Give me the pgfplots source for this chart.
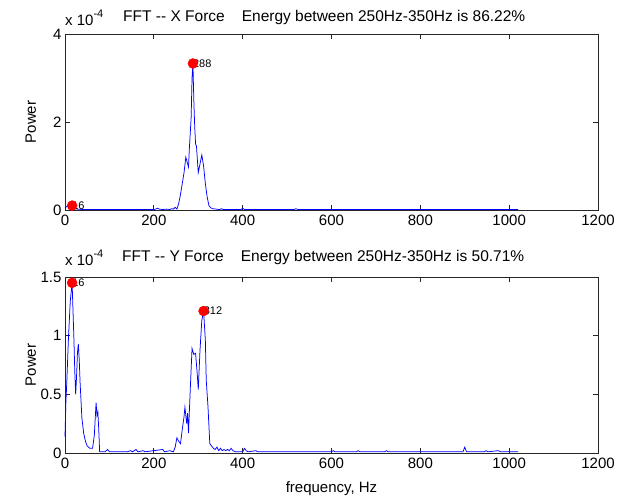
\documentclass[border=0pt]{standalone}
\usepackage{fontspec}
\setmainfont{Liberation Sans}
\usepackage{pgfplots}
\pgfplotsset{compat=1.18}

\newcommand{\fs}{\fontsize{15bp}{18bp}\selectfont}
\newcommand{\fsm}{\fontsize{11bp}{13bp}\selectfont}

\pgfplotsset{
  fftaxis/.style={
    scale only axis, width=533bp, height=176bp,
    xmin=0, xmax=1200, xtick={0,200,...,1200},
    ymin=0,
    tick pos=both, tick align=inside,
    major tick length=5bp,
    axis line style={line width=0.8bp, black!85},
    every tick/.style={black!85, line width=0.8bp},
    tick label style={font=\fs},
    xticklabel style={yshift=-2bp},
    /pgf/number format/assume math mode=true,
    /pgf/number format/1000 sep={},
    scaled y ticks=false,
    clip=false,
    ylabel style={at={(axis description cs:-0.064,0.5)}, anchor=center, font=\fs},
  },
  fftline/.style={blue, line width=0.75bp},
  peak/.style={only marks, mark=*, mark size=5bp, red},
}

\begin{document}
\begin{tikzpicture}[x=1bp, y=1bp, font=\fs]
\useasboundingbox (-65,-46) rectangle (564,453);

% ---- X force ----
\begin{axis}[fftaxis, at={(0bp,243bp)}, anchor=south west,
  ymax=4, ytick={0,2,4},
  ylabel={Power},
]
\addplot[fftline] coordinates {
(0,0.05)(4,0.08)(8,0.1)(12,0.1)(16,0.1)(20,0.06)(24,0.03)(28,0.02)(40,0.01)
(100,0.01)(200,0.01)(204,0.02)(208,0.04)(212,0.02)(220,0.01)(228,0.02)(236,0.01)
(240,0.03)(244,0.02)(248,0.06)(252,0.02)(256,0.15)(260,0.35)(264,0.6)(268,0.85)
(272,1.2)(276,1.05)(278,0.98)(280,1.4)(284,2.1)(286,3.0)(288,3.33)(290,2.5)
(292,1.9)(294,1.5)(296,1.45)(300,0.85)(304,1.05)(308,1.25)(312,1.0)(316,0.6)
(320,0.3)(324,0.1)(328,0.05)(332,0.03)(340,0.02)(348,0.01)(352,0.03)(356,0.01)
(370,0.01)(396,0.01)(400,0.04)(404,0.01)(450,0.01)(516,0.01)(520,0.03)(524,0.01)
(600,0.01)(800,0.01)(1020,0.01)
};
\node[anchor=west, inner sep=0, font=\fsm] at (axis cs:288,3.33) {288};
\node[anchor=west, inner sep=0, font=\fsm] at (axis cs:16,0.1) {16};
\addplot[peak] coordinates {(16,0.1)(288,3.33)};
\end{axis}
\node[anchor=base west, inner sep=0] at (0,427) {x 10\raisebox{8bp}{\fsm -4}};
\node[anchor=base west, inner sep=0, font=\fontsize{15.5bp}{18bp}\selectfont] at (58,431)
  {FFT {-}{-} X Force\hspace{17bp}Energy between 250Hz-350Hz is 86.22\%};

% ---- Y force ----
\begin{axis}[fftaxis, at={(0bp,0bp)}, anchor=south west,
  ymax=1.5, ytick={0,0.5,1,1.5},
  ylabel={Power},
  xlabel={frequency, Hz},
  xlabel style={at={(axis description cs:0.5,-0.222)}, anchor=base, font=\fs},
]
\addplot[fftline] coordinates {
(0,0.14)(2,0.43)(4,0.6)(8,1.0)(12,1.3)(16,1.45)(20,0.98)(22,0.7)(24,0.5)(26,0.65)
(28,0.85)(30,0.93)(32,0.8)(34,0.6)(36,0.45)(38,0.3)(42,0.17)(46,0.1)(50,0.06)
(56,0.04)(62,0.04)(66,0.15)(70,0.43)(72,0.32)(74,0.35)(76,0.2)(78,0.01)(90,0.01)
(96,0.03)(100,0.01)(140,0.01)(148,0.02)(152,0.01)(160,0.03)(164,0.01)(176,0.02)
(180,0.01)(220,0.03)(224,0.01)(236,0.02)(244,0.01)(248,0.05)(252,0.13)(256,0.1)
(260,0.08)(264,0.2)(268,0.31)(270,0.39)(274,0.25)(276,0.34)(278,0.17)(282,0.54)
(286,0.89)(290,0.84)(294,0.85)(298,0.66)(300,0.54)(304,0.88)(308,1.13)(312,1.21)
(316,0.96)(318,0.62)(322,0.39)(326,0.08)(330,0.06)(334,0.04)(338,0.03)(342,0.05)
(346,0.02)(350,0.04)(354,0.02)(358,0.03)(362,0.02)(366,0.03)(370,0.02)(374,0.04)
(378,0.02)(384,0.01)(400,0.01)(404,0.04)(408,0.02)(412,0.01)(430,0.02)(434,0.01)
(600,0.01)(604,0.02)(608,0.01)(656,0.01)(660,0.02)(664,0.01)(720,0.01)(724,0.02)
(728,0.01)(896,0.01)(900,0.05)(904,0.01)(944,0.01)(948,0.02)(952,0.01)(976,0.02)
(980,0.01)(1020,0.01)
};
\node[anchor=west, inner sep=0, font=\fsm] at (axis cs:312,1.21) {312};
\node[anchor=west, inner sep=0, font=\fsm] at (axis cs:16,1.45) {16};
\addplot[peak] coordinates {(16,1.45)(312,1.21)};
\end{axis}
\node[anchor=base west, inner sep=0] at (0,187) {x 10\raisebox{8bp}{\fsm -4}};
\node[anchor=base west, inner sep=0, font=\fontsize{15.5bp}{18bp}\selectfont] at (57,191)
  {FFT {-}{-} Y Force\hspace{17bp}Energy between 250Hz-350Hz is 50.71\%};
\end{tikzpicture}
\end{document}
